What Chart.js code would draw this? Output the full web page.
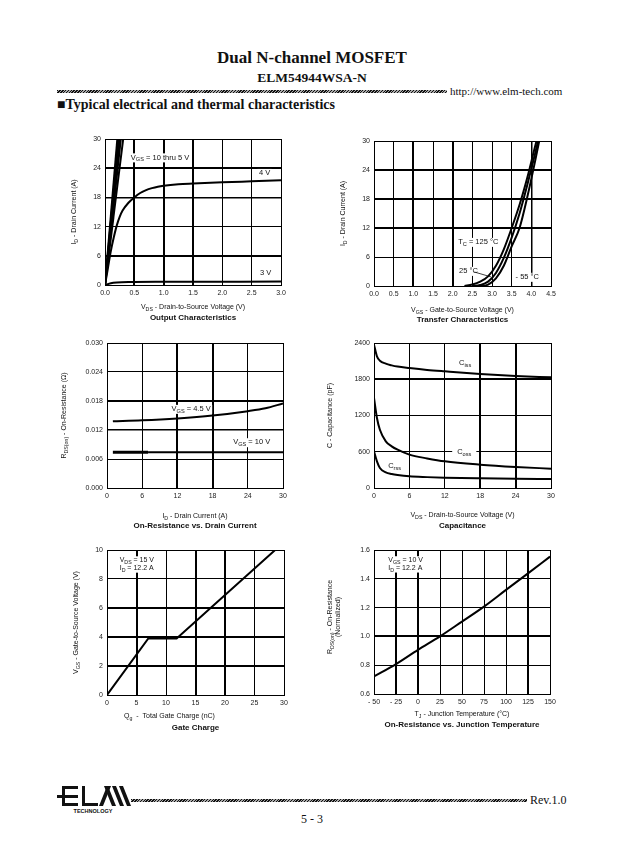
<!DOCTYPE html>
<html>
<head>
<meta charset="utf-8">
<script src="https://cdn.jsdelivr.net/npm/chart.js@4.4.1/dist/chart.umd.min.js"></script>
<style>
  body { margin: 0; background: #fff; width: 624px; height: 865px; position: relative; overflow: hidden; color: #111; font-family: 'Liberation Serif', serif; }
  .t { position: absolute; white-space: nowrap; line-height: 1; }
  canvas { position: absolute; }
  .hatch { position: absolute; height: 3px; background: repeating-linear-gradient(135deg, #111 0 1px, #aaa 1px 2px); }
</style>
</head>
<body>
<div class="t" style="left:0;width:624px;text-align:center;top:49px;font-weight:bold;font-size:17px">Dual N-channel MOSFET</div>
<div class="t" style="left:0;width:624px;text-align:center;top:71px;font-weight:bold;font-size:13.5px">ELM54944WSA-N</div>
<div class="hatch" style="left:57px;top:90px;width:390px"></div>
<div class="t" style="left:450px;top:86px;font-size:11px">http://www.elm-tech.com</div>
<div class="t" style="left:57px;top:98px;font-weight:bold;font-size:14px">■Typical electrical and thermal characteristics</div>

<canvas id="outChart"></canvas>
<canvas id="transferChart"></canvas>
<canvas id="rdsChart"></canvas>
<canvas id="capChart"></canvas>
<canvas id="gateChart"></canvas>
<canvas id="tempChart"></canvas>

<svg style="position:absolute;left:55px;top:784px" width="80" height="32" viewBox="55 784 80 32">
  <rect x="62" y="786" width="16" height="3" fill="#111"/>
  <rect x="57" y="795" width="21" height="3" fill="#111"/>
  <rect x="62" y="803" width="16" height="3" fill="#111"/>
  <rect x="62" y="786" width="3" height="20" fill="#111"/>
  <rect x="82" y="786" width="3" height="20" fill="#111"/>
  <rect x="82" y="803" width="16" height="3" fill="#111"/>
  <polygon points="99,806 107,786 111,786 103,806" fill="#111"/>
  <polygon points="104,786 108,786 116,806 112,806" fill="#111"/>
  <polygon points="112,786 116,786 124,806 120,806" fill="#111"/>
  <polygon points="119,786 123,786 131,806 127,806" fill="#111"/>
  <text x="93" y="813" text-anchor="middle" font-family="Liberation Sans" font-weight="bold" font-size="5.5" fill="#111">TECHNOLOGY</text>
</svg>
<div class="hatch" style="left:131px;top:799px;width:396px"></div>
<div class="t" style="left:530px;top:794px;font-size:12px">Rev.1.0</div>
<div class="t" style="left:0;width:624px;text-align:center;top:813px;font-size:12px">5 - 3</div>

<script>
// ---- Output characteristics (I_D vs V_DS)
const outXLabels = ['0.0', '0.5', '1.0', '1.5', '2.0', '2.5', '3.0'];
const outYLabels = ['0', '6', '12', '18', '24', '30'];
const outSteepTopV = [0.21, 0.23, 0.25, 0.27, 0.31]; // V_DS where 10..5 V curves reach 30 A
const outV4 = [0, 0.05, 0.1, 0.15, 0.2, 0.25, 0.3, 0.4, 0.5, 0.6, 0.7, 0.8, 0.9, 1.0, 1.25, 1.5, 2.0, 2.5, 3.0];
const outI4 = [0, 3.5, 7, 9.8, 12.2, 14, 15.3, 16.9, 18, 18.9, 19.5, 19.9, 20.2, 20.4, 20.7, 20.85, 21.1, 21.3, 21.5];
const outV3 = [0, 0.1, 0.2, 0.4, 1.0, 3.0];
const outI3 = [0, 0.35, 0.5, 0.6, 0.65, 0.7];

// ---- Transfer characteristics (I_D vs V_GS)
const tfXLabels = ['0.0', '0.5', '1.0', '1.5', '2.0', '2.5', '3.0', '3.5', '4.0', '4.5'];
const tfYLabels = ['0', '6', '12', '18', '24', '30'];
const tfV125 = [2.3, 2.5, 2.7, 2.9, 3.1, 3.3, 3.5, 3.7, 3.9, 4.1, 4.2];
const tfI125 = [0, 0.3, 0.9, 2, 4.2, 7.6, 12, 16.8, 22.5, 29, 32];
const tfV25 = [2.5, 2.7, 2.9, 3.1, 3.3, 3.5, 3.7, 3.9, 4.1, 4.2];
const tfI25 = [0, 0.2, 0.9, 2.7, 5.8, 10, 15, 21, 27.5, 31];
const tfVm55 = [2.7, 2.9, 3.1, 3.3, 3.5, 3.7, 3.9, 4.1, 4.25];
const tfIm55 = [0, 0.3, 1.6, 4.2, 8.2, 12, 18.5, 26, 32];

// ---- On-resistance vs drain current
const rdsXLabels = ['0', '6', '12', '18', '24', '30'];
const rdsYLabels = ['0.000', '0.006', '0.012', '0.018', '0.024', '0.030'];
const rdsId = [1, 6, 12, 18, 24, 27, 30];
const rdsVgs45 = [0.0138, 0.0140, 0.0144, 0.0150, 0.0159, 0.0165, 0.0175];
const rdsId10 = [1, 7, 30];
const rdsVgs10 = [0.0074, 0.0074, 0.0074];

// ---- Capacitance
const capXLabels = ['0', '6', '12', '18', '24', '30'];
const capYLabels = ['0', '600', '1200', '1800', '2400'];
const capVds = [0, 0.5, 1, 2, 3, 4, 6, 9, 12, 18, 24, 30];
const capCiss = [2372, 2180, 2107, 2058, 2030, 2010, 1986, 1955, 1931, 1887, 1854, 1832];
const capCoss = [1490, 1159, 965, 772, 690, 634, 552, 490, 441, 386, 348, 320];
const capCrss = [607, 441, 331, 259, 232, 215, 193, 180, 171, 160, 152, 148];

// ---- Gate charge
const gcXLabels = ['0', '5', '10', '15', '20', '25', '30'];
const gcYLabels = ['0', '2', '4', '6', '8', '10'];
const gcQg = [0, 7, 11.8, 28.5];
const gcVgs = [0, 3.9, 3.9, 10];

// ---- On-resistance vs junction temperature
const rtXLabels = ['- 50', '- 25', '0', '25', '50', '75', '100', '125', '150'];
const rtYLabels = ['0.6', '0.8', '1.0', '1.2', '1.4', '1.6'];
const rtTj = [-50, -25, 0, 25, 50, 75, 100, 125, 150];
const rtRds = [0.722, 0.808, 0.907, 1.0, 1.103, 1.207, 1.323, 1.438, 1.554];

const FONT = "'Liberation Sans', Arial, sans-serif";
const PAD = { l: 70, t: 10, r: 22, b: 50 };

function rich(ctx, parts, x, y, align, size, bold, measureOnly) {
  const font = s => (bold ? 'bold ' : '') + s + 'px ' + FONT;
  let w = 0;
  parts.forEach(([s, sub]) => { ctx.font = font(sub ? size * 0.75 : size); w += ctx.measureText(s).width; });
  if (measureOnly) return w;
  let cx = align === 'center' ? x - w / 2 : align === 'right' ? x - w : x;
  ctx.textAlign = 'left';
  ctx.textBaseline = 'middle';
  parts.forEach(([s, sub]) => {
    ctx.font = font(sub ? size * 0.75 : size);
    ctx.fillText(s, cx, y + (sub ? size * 0.3 : 0));
    cx += ctx.measureText(s).width;
  });
  return w;
}

const panelText = {
  id: 'panelText',
  // white boxes behind the labels hide the grid, like on the sheet
  beforeDatasetsDraw(chart, args, o) {
    const { ctx, scales: { x, y } } = chart;
    ctx.save();
    ctx.fillStyle = '#fff';
    (o.notes || []).forEach(n => {
      const size = n.size || 7.5;
      const w = rich(ctx, n.parts, 0, 0, 'left', size, false, true);
      let px = x.getPixelForValue(n.x);
      const py = y.getPixelForValue(n.y);
      if (n.align === 'center') px -= w / 2;
      const m = n.clear || 1.5;
      ctx.fillRect(px - m, py - size * 0.55, w + 2 * m, size * 1.2);
    });
    ctx.restore();
  },
  afterDraw(chart, args, o) {
    const { ctx, chartArea: a, scales: { x, y } } = chart;
    ctx.save();
    ctx.fillStyle = '#111';
    ctx.strokeStyle = '#111';
    (o.notes || []).forEach(n => {
      rich(ctx, n.parts, x.getPixelForValue(n.x), y.getPixelForValue(n.y), n.align || 'left', n.size || 7.5, false);
    });
    (o.links || []).forEach(k => {
      ctx.lineWidth = 0.8;
      ctx.beginPath();
      ctx.moveTo(x.getPixelForValue(k[0]), y.getPixelForValue(k[1]));
      ctx.lineTo(x.getPixelForValue(k[2]), y.getPixelForValue(k[3]));
      ctx.stroke();
    });
    const cx = (a.left + a.right) / 2;
    rich(ctx, o.xTitle, cx + (o.xTitleDx || 0), a.bottom + o.xTitleDy, 'center', 7, false);
    rich(ctx, [[o.title]], cx, a.bottom + o.titleDy, 'center', 8, true);
    (o.yTitle || []).forEach(line => {
      ctx.save();
      ctx.translate(a.left + line.dx, (a.top + a.bottom) / 2 + (o.yTitleDy || 0));
      ctx.rotate(-Math.PI / 2);
      rich(ctx, line.parts, 0, 0, 'center', 7, false);
      ctx.restore();
    });
    ctx.restore();
  }
};

function axis(min, max, labels, widths, size) {
  const step = (max - min) / (labels.length - 1);
  return {
    type: 'linear', min, max,
    afterBuildTicks: s => { s.ticks = labels.map((_, i) => ({ value: min + i * step })); },
    afterFit: s => { if (s.isHorizontal()) s.height = size; else s.width = size; },
    ticks: { autoSkip: false, maxRotation: 0, padding: 4, color: '#222', font: { family: FONT, size: 7 }, callback: (v, i) => labels[i] },
    grid: { color: '#000', lineWidth: c => widths[c.index] || 1, drawTicks: false },
    border: { display: true, color: '#000', width: 1 }
  };
}

function series(xs, ys, extra) {
  return Object.assign({
    data: xs.map((x, i) => ({ x, y: ys[i] })),
    showLine: true, borderColor: '#000', borderWidth: 2, pointRadius: 0,
    cubicInterpolationMode: 'monotone'
  }, extra || {});
}

function panel(id, box, xAxis, yAxis, datasets, text) {
  const [l, t, r, b] = box;
  const cv = document.getElementById(id);
  cv.width = r - l + PAD.l + PAD.r;
  cv.height = b - t + PAD.t + PAD.b;
  cv.style.left = (l - PAD.l) + 'px';
  cv.style.top = (t - PAD.t) + 'px';
  new Chart(cv, {
    type: 'scatter',
    data: { datasets },
    options: {
      responsive: false,
      animation: false,
      layout: { padding: { left: 0, top: PAD.t, right: PAD.r, bottom: 0 } },
      plugins: { legend: { display: false }, tooltip: { enabled: false }, panelText: text },
      scales: { x: axis(...xAxis, PAD.b), y: axis(...yAxis, PAD.l) }
    },
    plugins: [panelText]
  });
}

const S = (s) => [s, 1];

panel('outChart', [105, 139, 281, 285],
  [0, 3, outXLabels, [1, 2, 2, 2, 1, 1, 1]],
  [0, 30, outYLabels, [1, 2, 1, 1.5, 2, 1]],
  [
    ...outSteepTopV.map(v => series([0, v], [0, 30], { cubicInterpolationMode: 'default' })),
    series(outV4, outI4),
    series(outV3, outI3)
  ],
  {
    notes: [
      { x: 0.44, y: 26.2, parts: [['V'], S('GS'), [' = 10 thru 5 V']] },
      { x: 2.72, y: 23.0, align: 'center', parts: [['4 V']] },
      { x: 2.74, y: 2.4, align: 'center', parts: [['3 V']] }
    ],
    xTitle: [['V'], S('DS'), [' - Drain-to-Source Voltage (V)']], xTitleDy: 22,
    title: 'Output Characteristics', titleDy: 33,
    yTitle: [{ dx: -31, parts: [['I'], S('D'), [' - Drain Current (A)']] }]
  });

panel('transferChart', [374, 141, 551, 286],
  [0, 4.5, tfXLabels, [1, 1, 2, 1, 2, 1, 1, 1, 1.5, 1]],
  [0, 30, tfYLabels, [1, 1, 2, 2, 2, 1]],
  [series(tfV125, tfI125), series(tfV25, tfI25), series(tfVm55, tfIm55)],
  {
    notes: [
      { x: 2.14, y: 9.1, parts: [['T'], S('C'), [' = 125 °C']] },
      { x: 2.16, y: 3.1, parts: [['25 °C']] },
      { x: 3.6, y: 1.87, parts: [['- 55 °C']] }
    ],
    links: [[2.55, 2.9, 2.98, 1.87]],
    xTitle: [['V'], S('GS'), [' - Gate-to-Source Voltage (V)']], xTitleDy: 24,
    title: 'Transfer Characteristics', titleDy: 34,
    yTitle: [{ dx: -31, parts: [['I'], S('D'), [' - Drain Current (A)']] }]
  });

panel('rdsChart', [107, 343, 283, 488],
  [0, 30, rdsXLabels, [1, 1, 2, 2, 1, 1]],
  [0, 0.03, rdsYLabels, [1, 1, 1.5, 2, 1, 1]],
  [
    series(rdsId, rdsVgs45),
    series(rdsId10, rdsVgs10, { segment: { borderWidth: c => (c.p0.parsed.x < 7 ? 3 : 2) } })
  ],
  {
    notes: [
      { x: 11.0, y: 0.01635, parts: [['V'], S('GS'), [' = 4.5 V']] },
      { x: 21.5, y: 0.00945, parts: [['V'], S('GS'), [' = 10 V']] }
    ],
    xTitle: [['I'], S('D'), [' - Drain Current (A)']], xTitleDy: 28,
    title: 'On-Resistance vs. Drain Current', titleDy: 38,
    yTitle: [{ dx: -43, parts: [['R'], S('DS(on)'), [' - On-Resistance (Ω)']] }]
  });

panel('capChart', [374, 343, 551, 488],
  [0, 30, capXLabels, [1, 1, 1, 2, 2, 1]],
  [0, 2400, capYLabels, [1, 1, 1, 2, 1]],
  [series(capVds, capCiss), series(capVds, capCoss), series(capVds, capCrss)],
  {
    notes: [
      { x: 14.4, y: 2064, parts: [['C'], S('iss')] },
      { x: 14.1, y: 600, clear: 5, parts: [['C'], S('oss')] },
      { x: 2.4, y: 369, parts: [['C'], S('rss')] }
    ],
    xTitle: [['V'], S('DS'), [' - Drain-to-Source Voltage (V)']], xTitleDy: 27,
    title: 'Capacitance', titleDy: 38,
    yTitle: [{ dx: -44, parts: [['C - Capacitance (pF)']] }]
  });

panel('gateChart', [107, 550, 284, 695],
  [0, 30, gcXLabels, [1, 2, 1, 2, 2, 1, 1]],
  [0, 10, gcYLabels, [1, 2, 2, 2, 1, 1]],
  [series(gcQg, gcVgs, { cubicInterpolationMode: 'default' })],
  {
    notes: [
      { x: 2.15, y: 9.3, size: 7, parts: [['V'], S('DS'), [' = 15 V']] },
      { x: 2.15, y: 8.75, size: 7, parts: [['I'], S('D'), [' = 12.2 A']] }
    ],
    xTitle: [['Q'], S('g'), ['  -  Total Gate Charge (nC)']], xTitleDx: -26, xTitleDy: 21,
    title: 'Gate Charge', titleDy: 33,
    yTitle: [{ dx: -31, parts: [['V'], S('GS'), [' - Gate-to-Source Voltage (V)']] }]
  });

panel('tempChart', [374, 550, 550, 694],
  [-50, 150, rtXLabels, [1, 2, 2, 1, 1, 1, 1, 2, 1]],
  [0.6, 1.6, rtYLabels, [1, 1, 2, 1, 1, 1]],
  [series(rtTj, rtRds)],
  {
    notes: [
      { x: -33.7, y: 1.53, size: 7, parts: [['V'], S('GS'), [' = 10 V']] },
      { x: -33.7, y: 1.475, size: 7, parts: [['I'], S('D'), [' = 12.2 A']] }
    ],
    xTitle: [['T'], S('J'), [' - Junction Temperature (°C)']], xTitleDy: 20,
    title: 'On-Resistance vs. Junction Temperature', titleDy: 31,
    yTitleDy: -5,
    yTitle: [
      { dx: -44, parts: [['R'], S('DS(on)'), [' - On-Resistance']] },
      { dx: -36, parts: [['(Normalized)']] }
    ]
  });
</script>
</body>
</html>
